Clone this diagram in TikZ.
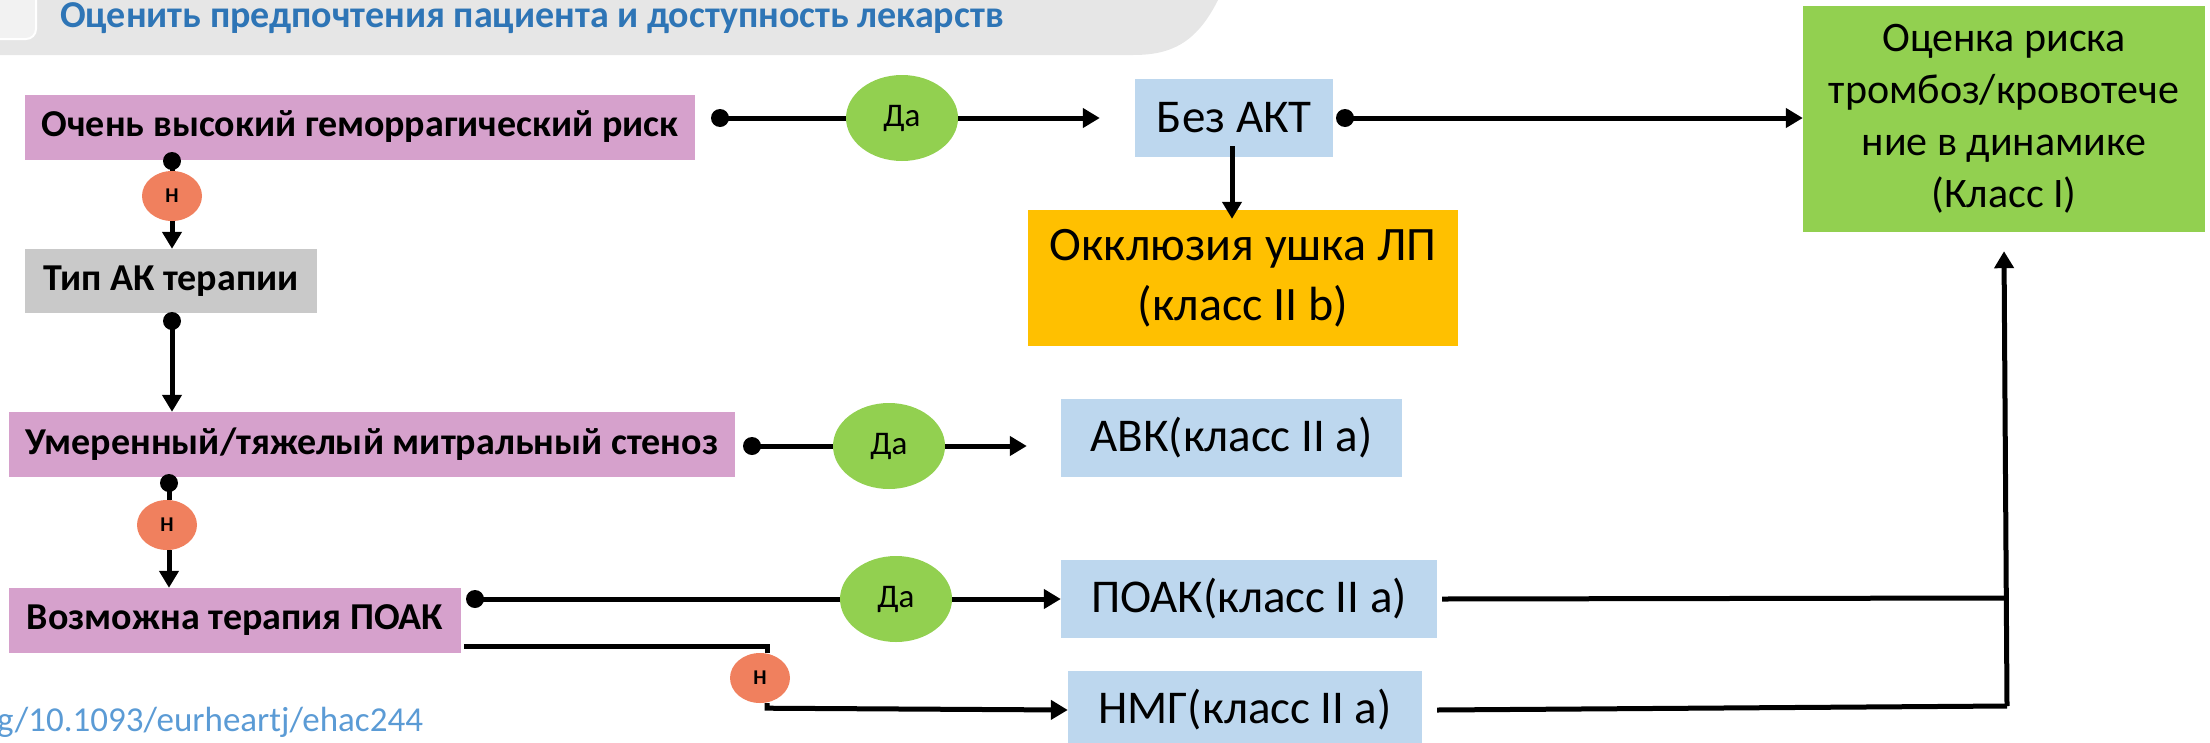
\documentclass[tikz,border=0pt]{standalone}
\usepackage{fontspec}
\setmainfont{Carlito}
\usetikzlibrary{arrows.meta,shapes.geometric}

\definecolor{headgray}{HTML}{E6E6E6}
\definecolor{headblue}{HTML}{2E75B6}
\definecolor{tabwhite}{HTML}{F2F2F2}
\definecolor{pinkbox}{HTML}{D6A1CC}
\definecolor{graybox}{HTML}{C9C9C9}
\definecolor{bluebox}{HTML}{BDD7EE}
\definecolor{laabox}{HTML}{FFC000}
\definecolor{yesgreen}{HTML}{92D050}
\definecolor{nored}{HTML}{F0805E}
\definecolor{doiblue}{HTML}{5B9BD5}

\begin{document}
\begin{tikzpicture}[x=1pt,y=-1pt,
		box/.style={rectangle,inner sep=0pt,align=center},
		qbox/.style={box,fill=pinkbox,minimum height=65pt,font=\bfseries\fontsize{38}{44}\selectfont},
		abox/.style={box,fill=bluebox,minimum height=78pt,font=\fontsize{47}{56}\selectfont},
		yes/.style={ellipse,fill=yesgreen,inner sep=0pt,minimum width=112pt,minimum height=86pt,font=\fontsize{33}{36}\selectfont},
		no/.style={ellipse,fill=nored,inner sep=0pt,minimum width=60pt,minimum height=50pt,font=\bfseries\fontsize{21}{24}\selectfont},
		dot/.style={circle,fill=black,inner sep=0pt,minimum size=18pt},
		conn/.style={line width=5pt},
		arr/.style={conn,-{Triangle[length=17pt,width=19pt]}}]
			\useasboundingbox (0,0) rectangle (2210,742);

			% header band
			\fill[headgray] (0,0) -- (1218,0) .. controls (1196,44) and (1170,55) .. (1133,55) -- (0,55) -- cycle;
			\draw[white,line width=2pt,fill=tabwhite,rounded corners=10pt] (-10,-10) rectangle (36,39);
			\node[anchor=west,inner sep=0pt,text=headblue,font=\bfseries\fontsize{38}{44}\selectfont] (title) at (60,18) {Оценить предпочтения пациента и доступность лекарств};

			% questions
			\node[qbox,minimum width=670pt] (risk)   at (360,127)   {Очень высокий геморрагический риск};
			\node[box,fill=graybox,minimum width=292pt,minimum height=64pt,font=\bfseries\fontsize{38}{44}\selectfont] (aktype) at (171,281) {Тип АК терапии};
			\node[qbox,minimum width=726pt] (mitral) at (372,444.5) {Умеренный/тяжелый митральный стеноз};
			\node[qbox,minimum width=452pt] (doac)   at (235,620.5) {Возможна терапия ПОАК};

			% answers
			\node[abox,minimum width=198pt] (noact) at (1234,118) {Без АКТ};
			\node[box,fill=laabox,minimum width=430pt,minimum height=136pt,font=\fontsize{48}{60}\selectfont] (laa) at (1243,278) {Окклюзия ушка ЛП\\(класс II b)};
			\node[abox,minimum width=341pt] (vka)   at (1231.5,438) {АВК(класс II a)};
			\node[abox,minimum width=376pt] (poak)  at (1249,599)   {ПОАК(класс II a)};
			\node[abox,minimum width=354pt] (lmwh)  at (1245,710)   {НМГ(класс II a)};
			\node[box,fill=yesgreen,minimum width=402pt,minimum height=226pt,font=\fontsize{42}{52}\selectfont] (dyn) at (2004,119) {Оценка риска\\тромбоз/кровотече\\ние в динамике\\(Класс I)};

			% yes / no
			\node[dot] (d1) at (720,118) {};
			\node[dot] (d2) at (172,161) {};
			\node[dot] (d3) at (172,321) {};
			\node[dot] (d4) at (1345,118) {};
			\node[dot] (d5) at (752,446) {};
			\node[dot] (d6) at (169,483) {};
			\node[dot] (d7) at (475,599) {};

			\draw[conn] (d1.center) -- (902,118);
			\draw[arr] (902,118) -- ([xshift=-35pt]noact.west);
			\node[yes] (yes1) at (902,118) {Да};
			\draw[arr] (d4.center) -- (d4 -| dyn.west);
			\draw[arr] ([yshift=11pt]noact.south -| 1232,0) -- ([yshift=-9pt]laa.north -| 1232,0);

			\node[no] (no1) at (172,196) {Н};
			\draw[conn] (d2.center) -- (no1);
			\draw[arr] (no1) -- (no1.south |- aktype.north);
			\draw[arr] (d3.center) -- (d3 |- mitral.north);

			\draw[conn] (d5.center) -- (889,446);
			\draw[arr] (889,446) -- ([xshift=-34pt]vka.west |- d5);
			\node[yes] (yes2) at (889,446) {Да};

			\node[no] (no2) at (167,525) {Н};
			\draw[conn] (d6.center) -- (d6 |- no2.north);
			\draw[arr] (no2.south -| d6) -- (d6 |- doac.north);

			\draw[conn] (d7.center) -- (896,599);
			\draw[arr] (896,599) -- (poak.west);
			\node[yes] (yes3) at (896,599) {Да};

			\node[no] (no3) at (760,678) {Н};
			\coordinate (nk) at (767,646);
			\draw[conn] ([xshift=3pt]doac.east |- nk) -- (nk) -- (nk |- no3.north);
			\draw[arr] (no3.south -| nk) -- ++(0,5) -- (lmwh.west);

			% to dynamic assessment
			\coordinate (j1) at (2005,598);
			\coordinate (j2) at (2007,706);
			\draw[conn] ([xshift=5pt]poak.east) -- (j1);
			\draw[conn] ([xshift=15pt]lmwh.east) -- (j2);
			\draw[arr] (j2) -- ([yshift=-19pt]dyn.south);

			\node[anchor=west,inner sep=0pt,text=doiblue,font=\fontsize{35}{40}\selectfont] (doi) at (-3,722) {g/10.1093/eurheartj/ehac244};
		\end{tikzpicture}
\end{document}
